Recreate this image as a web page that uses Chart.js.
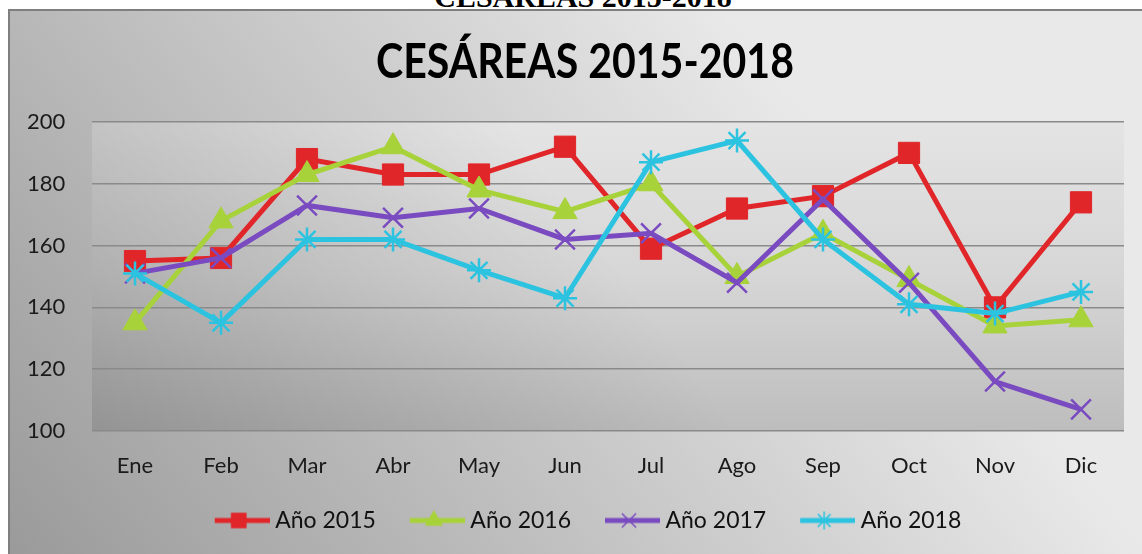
<!DOCTYPE html>
<html>
<head>
<meta charset="utf-8">
<title>Cesáreas 2015-2018</title>
<script src="https://cdn.jsdelivr.net/npm/chart.js@4.4.1/dist/chart.umd.min.js"></script>
<style>
  html, body { margin: 0; padding: 0; background: #fff; }
  #wrap { position: relative; width: 1142px; height: 554px; overflow: hidden; }
  #cabecera { position: absolute; left: 0; top: 0; width: 1142px; height: 9px; overflow: hidden; }
  #cabecera span { display: block; text-align: center; padding-left: 24px; margin-top: -18px;
    font: bold 30px "Liberation Serif", "DejaVu Serif", serif; line-height: 30px; color: #000; }
  #grafico { position: absolute; left: 0; top: 0; }
</style>
</head>
<body>
<div id="wrap">
  <div id="cabecera"><span>CESÁREAS 2015-2018</span></div>
  <canvas id="grafico" width="1142" height="554"></canvas>
</div>
<script>
var titulo = 'CESÁREAS 2015-2018';
var meses = ["Ene", "Feb", "Mar", "Abr", "May", "Jun", "Jul", "Ago", "Sep", "Oct", "Nov", "Dic"];
var anio2015 = [155, 156, 188, 183, 183, 192, 159, 172, 176, 190, 140, 174];
var anio2016 = [135, 168, 183, 192, 178, 171, 180, 150, 164, 149, 134, 136];
var anio2017 = [151, 156, 173, 169, 172, 162, 164, 148, 175, 148, 116, 107];
var anio2018 = [151, 135, 162, 162, 152, 143, 187, 194, 162, 141, 138, 145];
var ticksY = [100, 120, 140, 160, 180, 200];

var rojo = '#E1262A';
var verde = '#A8D23A';
var morado = '#7A4BC0';
var celeste = '#2CC3E0';

// icono de leyenda: linea + marcador, como en Excel
function iconoLeyenda(color, estilo, radio) {
  var cv = document.createElement('canvas');
  cv.width = 67; cv.height = 26;
  var c = cv.getContext('2d');
  c.strokeStyle = color;
  c.lineWidth = 5;
  c.beginPath(); c.moveTo(12, 13); c.lineTo(67, 13); c.stroke();
  c.fillStyle = color;
  c.lineWidth = 1.5;
  Chart.helpers.drawPoint(c, { pointStyle: estilo, radius: radio, borderWidth: 1.5, rotation: 0 }, 36, 13);
  return cv;
}

var iconos = [
  iconoLeyenda(rojo, 'rect', 10),
  iconoLeyenda(verde, 'triangle', 9),
  iconoLeyenda(morado, 'crossRot', 10),
  iconoLeyenda(celeste, 'star', 9)
];

// fondo del marco y del area de trazado
var fondo = {
  id: 'fondo',
  beforeDraw: function(chart) {
    var c = chart.ctx, a = chart.chartArea;
    c.save();
    var g = c.createLinearGradient(8, 554, 720, 0);
    g.addColorStop(0, '#9a9a9a');
    g.addColorStop(1, '#e9e9e9');
    c.fillStyle = g;
    c.fillRect(8, 9, 1134, 545);
    c.fillStyle = '#7f7f7f';
    c.fillRect(8, 9, 1134, 2);
    c.fillRect(8, 9, 2, 545);

    var g2 = c.createLinearGradient(0, a.top, 0, a.bottom);
    g2.addColorStop(0, '#e4e4e4');
    g2.addColorStop(0.5, '#d6d6d6');
    g2.addColorStop(1, '#bdbdbd');
    c.fillStyle = g2;
    c.fillRect(a.left, a.top, a.width, a.height);
    var g3 = c.createLinearGradient(a.left, a.bottom, a.left + 420, a.top);
    g3.addColorStop(0, 'rgba(0,0,0,0.22)');
    g3.addColorStop(1, 'rgba(0,0,0,0)');
    c.fillStyle = g3;
    c.fillRect(a.left, a.top, a.width, a.height);
    c.restore();
  }
};

// titulo en negrita estrecha (tipo Calibri)
var tituloEstrecho = {
  id: 'tituloEstrecho',
  afterDraw: function(chart, args, opts) {
    var c = chart.ctx;
    c.save();
    c.font = 'bold 48px Lato';
    c.fillStyle = '#000';
    c.textAlign = 'center';
    c.textBaseline = 'middle';
    c.translate(585, 62.5);
    c.scale(0.855, 1);
    c.fillText(opts.text, 0, 0);
    c.restore();
  }
};

var ctx = document.getElementById('grafico').getContext('2d');
var grafico = new Chart(ctx, {
  type: 'line',
  data: {
    labels: meses,
    datasets: [
      {
        label: 'Año 2015',
        data: anio2015,
        borderColor: rojo,
        backgroundColor: rojo,
        borderWidth: 5,
        pointStyle: 'rect',
        pointRadius: 15,
        pointBorderWidth: 1,
        order: 4
      },
      {
        label: 'Año 2016',
        data: anio2016,
        borderColor: verde,
        backgroundColor: verde,
        borderWidth: 5,
        pointStyle: 'triangle',
        pointRadius: 14,
        pointBorderWidth: 1,
        order: 3
      },
      {
        label: 'Año 2017',
        data: anio2017,
        borderColor: morado,
        backgroundColor: morado,
        borderWidth: 5,
        pointStyle: 'crossRot',
        pointRadius: 14,
        pointBorderWidth: 2.5,
        order: 2
      },
      {
        label: 'Año 2018',
        data: anio2018,
        borderColor: celeste,
        backgroundColor: celeste,
        borderWidth: 5,
        pointStyle: 'star',
        pointRadius: 12,
        pointBorderWidth: 2.5,
        order: 1
      }
    ]
  },
  options: {
    responsive: false,
    animation: false,
    layout: {
      padding: { top: 122, left: 46, right: 18, bottom: 12 }
    },
    scales: {
      x: {
        offset: true,
        grid: { display: false },
        border: { display: false },
        ticks: {
          padding: 14,
          color: '#1a1a1a',
          font: { family: 'Lato', size: 22 }
        },
        afterFit: function(scale) { scale.height = 50; }
      },
      y: {
        min: 100,
        max: 200,
        afterBuildTicks: function(scale) {
          scale.ticks = ticksY.map(function(v) { return { value: v }; });
        },
        grid: { color: '#8a8a8a', lineWidth: 1.6, drawTicks: false },
        border: { display: false },
        ticks: {
          mirror: true,   // evita el recorte de etiquetas; se colocan con padding negativo
          padding: -65,
          color: '#1a1a1a',
          font: { family: 'Lato', size: 22 }
        },
        afterFit: function(scale) { scale.width = 46; }
      }
    },
    plugins: {
      title: { display: false },
      tituloEstrecho: { text: titulo },
      legend: {
        position: 'bottom',
        labels: {
          usePointStyle: true,
          pointStyleWidth: 55,
          padding: 28,
          color: '#111',
          font: { family: 'Lato', size: 23 },
          generateLabels: function(chart) {
            return chart.data.datasets.map(function(ds, i) {
              return {
                text: ds.label,
                pointStyle: iconos[i],
                fillStyle: ds.borderColor,
                strokeStyle: ds.borderColor,
                lineWidth: 0,
                hidden: false,
                datasetIndex: i,
                fontColor: '#111'
              };
            });
          }
        }
      },
      tooltip: { enabled: false }
    }
  },
  plugins: [fondo, tituloEstrecho]
});
</script>
</body>
</html>
